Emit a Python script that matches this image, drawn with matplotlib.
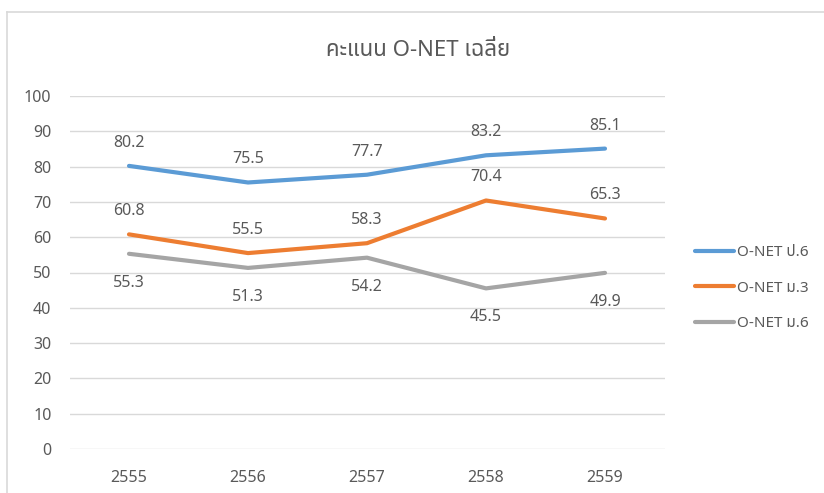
import matplotlib
matplotlib.use("Agg")
import matplotlib.pyplot as plt
from matplotlib.lines import Line2D

plt.rcParams["font.family"] = ["Noto Sans Thai", "Noto Sans", "DejaVu Sans"]

# O-NET average scores by Thai academic year
years = ["2555", "2556", "2557", "2558", "2559"]
p6 = [80.2, 75.5, 77.7, 83.2, 85.1]
m3 = [60.8, 55.5, 58.3, 70.4, 65.3]
m6 = [55.3, 51.3, 54.2, 45.5, 49.9]

series = [
    ("O-NET ป.6", p6, "#5b9bd5", 23),
    ("O-NET ม.3", m3, "#ed7d31", 23),
    ("O-NET ม.6", m6, "#a5a5a5", -29),
]

TXT = "#595959"
GRID = "#d9d9d9"

W, H = 824, 493
fig = plt.figure(figsize=(W / 100, H / 100), dpi=100)
ax = fig.add_axes([69.5 / W, 1 - 449 / H, (664.5 - 69.5) / W, (449 - 96) / H])

x = list(range(len(years)))
for label, vals, color, off in series:
    ax.plot(x, vals, color=color, lw=3.0, solid_capstyle="round", label=label, zorder=3)
    for xi, v in zip(x, vals):
        ax.annotate(f"{v:.1f}", (xi, v), xytext=(0, off), textcoords="offset pixels",
                    ha="center", va="center", fontsize=11.5, color=TXT)

ax.set_xlim(-0.5, len(years) - 0.5)
ax.set_ylim(0, 100)
ax.set_yticks(range(0, 101, 10))
ax.set_xticks(x)
ax.set_xticklabels(years)
ax.grid(axis="y", color=GRID, lw=1.0)
ax.set_axisbelow(True)
for s in ax.spines.values():
    s.set_visible(False)
ax.tick_params(length=0, labelsize=11.5, labelcolor=TXT)
ax.tick_params(axis="y", pad=13)
ax.tick_params(axis="x", pad=15)

fig.text(418 / W, 1 - 50 / H, "คะแนน O-NET เฉลี่ย", ha="center", va="center",
         fontsize=16, color=TXT)

ax.legend(loc="center left", bbox_to_anchor=(681 / W, 1 - 288 / H),
          bbox_transform=fig.transFigure, frameon=False, fontsize=11,
          handlelength=2.6, handletextpad=0.15, labelspacing=1.35, labelcolor=TXT)

# chart-area border (only the top and left edges are visible)
fig.add_artist(Line2D([7.5 / W, 7.5 / W], [0, 1 - 11.5 / H], color=GRID, lw=1.2))
fig.add_artist(Line2D([7.5 / W, 1], [1 - 11.5 / H, 1 - 11.5 / H], color=GRID, lw=1.2))

fig.savefig("out.png", dpi=100)
